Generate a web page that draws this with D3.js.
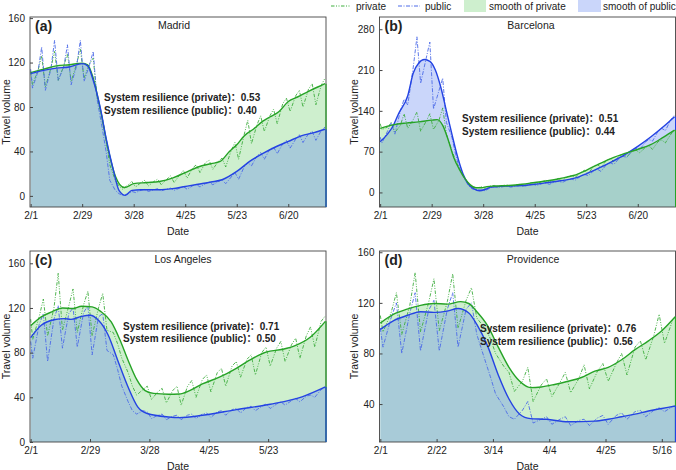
<!DOCTYPE html>
<html><head><meta charset="utf-8">
<script src="https://cdn.jsdelivr.net/npm/d3@7"></script>
<style>
body{margin:0;background:#fff}
svg{display:block}
text{font-family:"Liberation Sans",Arial,"Noto Sans CJK SC",sans-serif;fill:#222}
</style>
</head><body><svg id="c" width="676" height="470"></svg>
<script>
// ---------- DATA ----------
// day offsets from 2/1 at which the raw (daily) series are sampled (Sun, Wed, Fri of each week)
const rawDays = [0, 1,4,6, 8,11,13, 15,18,20, 22,25,27, 29,32,34, 36,39,41, 43,46,48, 50,53,55, 57,60,62,
  64,67,69, 71,74,76, 78,81,83, 85,88,90, 92,95,97, 99,102,104, 106,109,111, 113,116,118, 120,123,125,
  127,130,132, 134,137,139, 141,144,146, 148,151,153, 155,158,160];

const monthTickDays = [0,28,56,84,112,140];
const monthTickLabels = ["2/1","2/29","3/28","4/25","5/23","6/20"];
const provTickDays = [0,21,42,63,84,105];
const provTickLabels = ["2/1","2/22","3/14","4/4","4/25","5/16"];

const ticksA = [0,40,80,120,160];
const ticksB = [0,70,140,210,280];
const ticksC = [0,40,80,120,160];
const ticksD = [40,80,120,160];

// Madrid
const madridPrivateRaw = [112, 100,113,126, 98,115,130, 104,117,128, 103,119,132, 106,119,124, 90,70,50, 28,14,9, 6,10,13, 8,12,14, 9,13,15, 10,15,18, 12,19,23, 16,25,28, 21,30,32, 24,31,34, 26,41,48, 33,55,68, 47,64,72, 58,72,78, 65,83,88, 76,90,95, 80,96,101, 82,100,106];
const madridPublicRaw = [114, 97,112,134, 95,114,140, 104,116,136, 100,117,140, 103,118,130, 88,60,40, 14,5,2, 0.5,2,4, 3,5,6, 4,5.5,6.5, 4.5,6,7, 5,7,8.5, 6,9,10.5, 8,11,12.5, 10,13,14.5, 11,17,21, 15,26,30, 27,36,39, 33,42,44, 38,47,50, 43,51,55, 48,56,58, 50,59,62];
const madridPrivateSmooth = [[0,111],[7,114],[14,117],[21,118],[28,119.5],[31,118],[34,106],[38,77],[42,43],[46,18],[51,7.5],[56,11],[63,12],[70,13],[77,16],[84,21],[91,26],[98,29],[103,31],[108,40],[112,46],[116,54],[121,60],[126,67],[130,71],[135,76],[140,85],[145,89],[151,94],[156,98],[160,101]];
const madridPublicSmooth = [[0,110],[7,113],[14,115],[21,116],[28,119],[31,117],[34,104],[38,78],[41,52],[45,23],[48,5],[51.5,0.5],[55,5],[60,5.5],[70,5.5],[77,6.5],[84,8.5],[91,10.5],[98,12.5],[104,14.5],[112,22],[119,31],[126,38],[133,44],[140,49],[147,54],[154,57],[160,60]];

// Barcelona
const barcelonaPrivateRaw = [118, 108,112,120, 103,115,135, 110,125,138, 105,122,135, 108,124,145, 100,72,55, 42,25,15, 9,8,10, 7,11,12, 9,12,13, 10,13,14, 11,16,17, 14,19,21, 17,22,24, 21,27,29, 26,34,38, 32,45,48, 43,55,58, 53,63,66, 61,70,73, 68,77,80, 74,87,90, 85,100,106];
const barcelonaPublicRaw = [95, 85,105,120, 100,140,160, 150,215,267, 187,230,258, 143,175,196, 120,95,65, 42,22,12, 6,5,4, 3,8,10, 8,10,11, 9,11,12, 10,13,14, 12,15,16, 14,18,19, 17,22,23, 21,28,31, 29,37,40, 36,48,51, 48,59,62, 60,72,76, 73,86,91, 88,105,110, 106,125,133];
const barcelonaPrivateSmooth = [[0,110],[7,116],[14,119],[21,121],[28,124],[31,125],[34,115],[37,90],[40,60],[43,40],[46,24],[49,13],[52,8],[55,8],[58,10],[63,11],[70,12],[77,14],[84,17],[91,20],[98,24],[105,29],[112,38],[119,49],[126,59],[133,67],[140,74],[147,82],[154,95],[160,107]];
const barcelonaPublicSmooth = [[0,87],[4,100],[7,114],[10,135],[15,166],[18,205],[21,222],[24,228],[27,225],[30,210],[33,180],[36,140],[39,100],[42,62],[45,32],[48,14],[51,6],[54,3],[57,5],[60,9],[63,10],[70,11],[77,12],[84,14],[91,17],[98,20],[105,24],[112,32],[119,42],[126,53],[133,65],[140,79],[147,95],[154,113],[160,130]];

// Los Angeles
const laPrivateRaw = [110, 92,112,128, 95,120,151, 100,122,137, 98,123,135, 95,120,133, 100,98,88, 75,62,50, 42,47,50, 38,45,48, 35,46,50, 33,50,55, 40,56,60, 45,62,66, 50,68,72, 58,74,78, 60,80,85, 68,84,90, 72,87,93, 75,95,103, 85,108,113];
const laPublicRaw = [90, 75,105,115, 72,110,122, 84,115,120, 85,116,122, 78,112,115, 82,78,65, 50,36,28, 25,28,27, 21,24,25, 20,23,24, 20,24,25, 21,25,26, 22,27,28, 24,29,30, 26,31,32, 28,32,34, 30,34,36, 33,37,39, 36,41,42, 40,47,49];
const laPrivateSmooth = [[0,104],[5,112],[10,116.5],[15,120],[20,119.5],[24,121.5],[29,121],[33,117],[38,107.5],[42,92],[46,73],[50,56],[54,46],[58,43.5],[65,42.8],[70,43],[75,46],[81,52],[89,58],[97,66],[103,73],[111,80.5],[119,83],[125,86.5],[132,94],[139,108]];
const laPublicSmooth = [[0,93.5],[5,104.5],[11,109.5],[16,110.5],[19,109.8],[24,112.5],[28,113.5],[32,109],[36.5,96],[41,73.5],[46,49],[50.5,31.5],[55,25.5],[65,22.4],[70,21.8],[81,23.9],[97,29],[113,33.8],[128,40.4],[139,49.3]];

// Providence
const providencePrivateRaw = [110, 97,112,128, 95,118,144, 97,120,139, 98,121,143, 100,122,132, 108,100,92, 80,70,65, 50,58,69, 42,55,60, 46,57,65, 49,60,71, 52,66,72, 58,72,80, 63,85,90, 75,94,111, 88,106];
const providencePublicRaw = [100, 85,108,120, 80,112,128, 82,114,122, 82,115,128, 85,115,120, 95,75,62, 48,38,30, 28,35,42, 25,28,30, 24,28,30, 23,27,28, 23,29,31, 24,31,33, 28,34,35, 30,35,37, 34,38];
const providencePrivateSmooth = [[0,104],[5,111],[10,115],[15,118],[20,119.5],[25,119],[30,121],[33,119.5],[36,113],[40,102],[44,85],[48,69],[52,58],[56,53],[60,53.5],[65,55.5],[70,58],[75,61],[80,66],[85,69],[90,75],[95,83],[100,90],[105,98],[110,109]];
const providencePublicSmooth = [[0,99],[5,106],[10,110],[15,113],[20,112.5],[25,113.5],[29,115.5],[33,112],[36,103],[40,86],[44,63],[48,44],[52,32],[56,28.5],[62,28],[70,26],[80,26.5],[85,28],[90,30],[95,32],[100,34.5],[105,36.5],[110,38.5]];

const resilience = [["0.53","0.40"],["0.51","0.44"],["0.71","0.50"],["0.76","0.56"]];
const cities = ["Madrid","Barcelona","Los Angeles","Providence"];
const panelLetters = ["(a)","(b)","(c)","(d)"];

// ---------- STYLE / LAYOUT ----------
const C = {
  greenLine:"#26a326", greenRaw:"#3fae3f", greenFill:"#3cbe3c", greenOp:0.25,
  blueLine:"#2443e3", blueRaw:"#4d6be8", blueFill:"#5078f0", blueOp:0.3
};
const dashPrivate = "3.5,1.5,1,1.5,1,1.5";
const dashPublic = "4,1.5,1,1.5";

const panels = [
  {box:[30,326,17,207], xd:[-0.35,160.5], yd:[-10,161], yt:ticksA, xt:monthTickDays, xl:monthTickLabels,
   priv:madridPrivateRaw, pub:madridPublicRaw, ps:madridPrivateSmooth, us:madridPublicSmooth,
   greenOnTop:false, title:174, note:[104,101], ylab:10},
  {box:[379.5,675.5,17,207], xd:[-0.35,160.5], yd:[-25,301], yt:ticksB, xt:monthTickDays, xl:monthTickLabels,
   priv:barcelonaPrivateRaw, pub:barcelonaPublicRaw, ps:barcelonaPrivateSmooth, us:barcelonaPublicSmooth,
   greenOnTop:true, title:531, note:[462,122], ylab:358},
  {box:[30,326,251,442], xd:[-0.3,139.3], yd:[0,171], yt:ticksC, xt:monthTickDays.slice(0,5), xl:monthTickLabels.slice(0,5),
   priv:laPrivateRaw, pub:laPublicRaw, ps:laPrivateSmooth, us:laPublicSmooth,
   greenOnTop:false, title:183, note:[123,329.5], ylab:10},
  {box:[379.5,675.5,251,442], xd:[-0.3,110.1], yd:[10,161], yt:ticksD, xt:provTickDays, xl:provTickLabels,
   priv:providencePrivateRaw, pub:providencePublicRaw, ps:providencePrivateSmooth, us:providencePublicSmooth,
   greenOnTop:false, title:533, note:[480,332], ylab:358}
];

const svg = d3.select("#c");

panels.forEach((p,i)=>{
  const [x0,x1,y0,y1] = p.box;
  const x = d3.scaleLinear().domain(p.xd).range([x0,x1]);
  const y = d3.scaleLinear().domain(p.yd).range([y1,y0]);
  const g = svg.append("g");
  const clipId = "clip"+i;
  g.append("clipPath").attr("id",clipId).append("rect")
    .attr("x",x0).attr("y",y0).attr("width",x1-x0).attr("height",y1-y0);
  const area = d3.area().x(d=>x(d[0])).y0(y1).y1(d=>y(d[1])).curve(d3.curveMonotoneX);
  const sline = d3.line().x(d=>x(d[0])).y(d=>y(d[1])).curve(d3.curveMonotoneX);
  const rline = d3.line().x(d=>x(d[0])).y(d=>y(d[1]));

  const plot = g.append("g").attr("clip-path",`url(#${clipId})`);
  const greenArea = ()=>plot.append("path").attr("d",area(p.ps)).attr("fill",C.greenFill).attr("fill-opacity",C.greenOp);
  const blueArea = ()=>plot.append("path").attr("d",area(p.us)).attr("fill",C.blueFill).attr("fill-opacity",C.blueOp);
  if(p.greenOnTop){ blueArea(); greenArea(); } else { greenArea(); blueArea(); }

  const privPts = p.priv.map((v,k)=>[rawDays[k],v]);
  const pubPts = p.pub.map((v,k)=>[rawDays[k],v]);
  plot.append("path").attr("d",rline(privPts)).attr("fill","none").attr("stroke",C.greenRaw)
    .attr("stroke-width",0.9).attr("stroke-dasharray",dashPrivate);
  plot.append("path").attr("d",rline(pubPts)).attr("fill","none").attr("stroke",C.blueRaw)
    .attr("stroke-width",0.9).attr("stroke-dasharray",dashPublic);

  // frame
  g.append("rect").attr("x",x0).attr("y",y0).attr("width",x1-x0).attr("height",y1-y0)
    .attr("fill","none").attr("stroke","#444").attr("stroke-width",0.9);

  // smooth lines (with right-edge drop like the area outline)
  const addSmooth = (s,col)=>{
    const last = s[s.length-1];
    g.append("path").attr("d",sline(s)).attr("fill","none").attr("stroke",col).attr("stroke-width",1.4);
    g.append("line").attr("x1",x1).attr("x2",x1).attr("y1",y(last[1])).attr("y2",y1)
      .attr("stroke",col).attr("stroke-width",1.2);
  };
  if(p.greenOnTop){ addSmooth(p.us,C.blueLine); addSmooth(p.ps,C.greenLine); }
  else { addSmooth(p.ps,C.greenLine); addSmooth(p.us,C.blueLine); }

  // axes
  const ya = g.append("g").attr("transform",`translate(${x0},0)`)
    .call(d3.axisLeft(y).tickValues(p.yt).tickSizeInner(-3).tickSizeOuter(0).tickPadding(5));
  const xa = g.append("g").attr("transform",`translate(0,${y1})`)
    .call(d3.axisBottom(x).tickValues(p.xt).tickFormat((d,k)=>p.xl[k]).tickSizeInner(-3).tickSizeOuter(0).tickPadding(5));
  [ya,xa].forEach(a=>{
    a.select(".domain").remove();
    a.selectAll("line").attr("stroke","#444");
    a.selectAll("text").attr("font-size",10).attr("fill","#222")
      .style("font-family",'"Liberation Sans",Arial,sans-serif');
  });

  // labels
  g.append("text").attr("x",(x0+x1)/2).attr("y",y1+27.5).attr("text-anchor","middle")
    .attr("font-size",10.5).text("Date");
  g.append("text").attr("transform",`translate(${p.ylab},${(y0+y1)/2}) rotate(-90)`)
    .attr("text-anchor","middle").attr("font-size",10.5).text("Travel volume");
  g.append("text").attr("x",x0+5).attr("y",y0+14).attr("font-size",14).attr("font-weight","bold")
    .text(panelLetters[i]);
  g.append("text").attr("x",p.title).attr("y",y0+12).attr("text-anchor","middle")
    .attr("font-size",10.5).text(cities[i]);
  const nt = g.append("g").attr("font-weight","bold").attr("font-size",10);
  nt.append("text").attr("x",p.note[0]).attr("y",p.note[1])
    .text("System resilience (private)：" + resilience[i][0]);
  nt.append("text").attr("x",p.note[0]).attr("y",p.note[1]+12.5)
    .text("System resilience (public)：" + resilience[i][1]);
});

// legend
const lg = svg.append("g").attr("font-size",10);
lg.append("line").attr("x1",331).attr("x2",351).attr("y1",6).attr("y2",6)
  .attr("stroke",C.greenRaw).attr("stroke-width",1).attr("stroke-dasharray",dashPrivate);
lg.append("text").attr("x",356).attr("y",9.5).text("private");
lg.append("line").attr("x1",398).attr("x2",420).attr("y1",6).attr("y2",6)
  .attr("stroke",C.blueRaw).attr("stroke-width",1).attr("stroke-dasharray",dashPublic);
lg.append("text").attr("x",425).attr("y",9.5).text("public");
lg.append("rect").attr("x",464).attr("y",0).attr("width",22).attr("height",12)
  .attr("fill",C.greenFill).attr("fill-opacity",C.greenOp);
lg.append("text").attr("x",489).attr("y",9.5).text("smooth of private");
lg.append("rect").attr("x",578).attr("y",0).attr("width",23).attr("height",12)
  .attr("fill",C.blueFill).attr("fill-opacity",C.blueOp);
lg.append("text").attr("x",603).attr("y",9.5).text("smooth of public");
</script>
</body></html>
